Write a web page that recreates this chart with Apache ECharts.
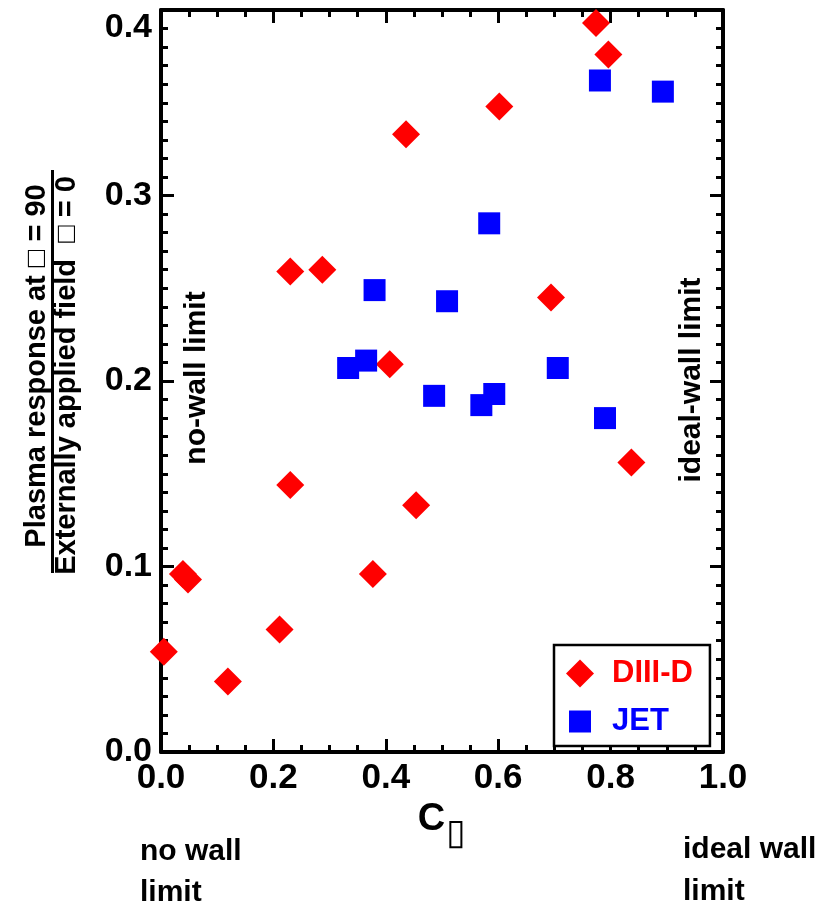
<!DOCTYPE html>
<html>
<head>
<meta charset="utf-8">
<script src="https://cdn.jsdelivr.net/npm/echarts@6/dist/echarts.min.js"></script>
<style>
html, body { margin: 0; padding: 0; background: #fff; }
#main { width: 825px; height: 916px; }
</style>
</head>
<body>
<div id="main"></div>
<script>
// data
var diiidX = [0.005, 0.039, 0.048, 0.119, 0.211, 0.230, 0.230, 0.287, 0.377, 0.407, 0.436, 0.454, 0.602, 0.694, 0.774, 0.796, 0.837];
var diiidY = [0.054, 0.096, 0.093, 0.038, 0.066, 0.144, 0.259, 0.260, 0.096, 0.209, 0.333, 0.133, 0.348, 0.245, 0.393, 0.376, 0.156];

var jetX = [0.333, 0.365, 0.380, 0.486, 0.509, 0.570, 0.584, 0.593, 0.706, 0.781, 0.790, 0.893];
var jetY = [0.207, 0.211, 0.249, 0.192, 0.243, 0.187, 0.285, 0.193, 0.207, 0.362, 0.180, 0.356];

var xMin = 0, xMax = 1.0, xStep = 0.2;
var yMin = 0, yMax = 0.4, yStep = 0.1;

var seriesNames = ['DIII-D', 'JET'];

var FONT = 'Liberation Sans';
var myChart = echarts.init(document.getElementById('main'));

function pairs(xs, ys) {
    return xs.map(function (x, i) { return [x, ys[i]]; });
}

var tickStyle = { width: 3, color: '#000' };
var lineStyle = { width: 4, color: '#000' };

function xAx(pos, showLabel) {
    return {
        type: 'value', position: pos, min: xMin, max: xMax, interval: xStep,
        axisLine: { show: true, onZero: false, lineStyle: lineStyle },
        axisTick: { show: true, inside: true, length: 13, lineStyle: tickStyle },
        minorTick: { show: true, splitNumber: 4, length: 7, lineStyle: tickStyle },
        splitLine: { show: false },
        axisLabel: {
            show: showLabel, margin: 9, showMinLabel: true, showMaxLabel: true,
            fontFamily: FONT, fontWeight: 'bold', fontSize: 35, color: '#000',
            formatter: function (v) { return v.toFixed(1); }
        }
    };
}

function yAx(pos, showLabel) {
    return {
        type: 'value', position: pos, min: yMin, max: yMax, interval: yStep,
        axisLine: { show: true, onZero: false, lineStyle: lineStyle },
        axisTick: { show: true, inside: true, length: 13, lineStyle: tickStyle },
        minorTick: { show: true, splitNumber: 10, length: 7, lineStyle: tickStyle },
        splitLine: { show: false },
        axisLabel: {
            show: showLabel, margin: 9, showMinLabel: true, showMaxLabel: true,
            fontFamily: FONT, fontWeight: 'bold', fontSize: 34, color: '#000',
            formatter: function (v) {
                // top label sits a little lower, as in the figure
                if (Math.abs(v - yMax) < 1e-9) return '{top|' + v.toFixed(1) + '}';
                return v.toFixed(1);
            },
            rich: {
                top: { padding: [36, 0, 0, 0], fontFamily: FONT, fontWeight: 'bold', fontSize: 34, color: '#000' }
            }
        }
    };
}

var xMain = xAx('bottom', true);
xMain.name = '{c|C}{s|\u25AF}';
xMain.nameLocation = 'middle';
xMain.nameGap = 47;
xMain.nameTextStyle = {
    rich: {
        c: { fontFamily: FONT, fontWeight: 'bold', fontSize: 38, color: '#000', verticalAlign: 'bottom' },
        s: { fontFamily: 'DejaVu Sans', fontSize: 36, color: '#000', verticalAlign: 'bottom', padding: [0, 0, -14, 1] }
    }
};

function txt(text, x, y, rot, size) {
    return {
        type: 'text', x: x, y: y, rotation: rot || 0, z: 10,
        style: {
            text: text, fill: '#000', font: 'bold ' + (size || 30) + 'px "' + FONT + '"',
            align: 'left', textAlign: 'left', verticalAlign: 'middle', textVerticalAlign: 'middle'
        }
    };
}
function ctxt(text, x, y, rot, size) {
    var t = txt(text, x, y, rot, size);
    t.style.align = 'center';
    t.style.textAlign = 'center';
    return t;
}

option = {
    backgroundColor: '#fff',
    animation: false,
    grid: { left: 161, right: 102, top: 10, bottom: 164 },
    xAxis: [xMain, xAx('top', false)],
    yAxis: [yAx('left', true), yAx('right', false)],
    legend: {
        orient: 'vertical',
        left: 554, top: 645,
        padding: [13, 17, 9, 12],
        itemGap: 17,
        itemWidth: 28, itemHeight: 28,
        borderColor: '#000', borderWidth: 2.5,
        backgroundColor: '#fff',
        selectedMode: false,
        data: [
            { name: seriesNames[0], icon: 'diamond', textStyle: { color: '#ff0000' } },
            { name: seriesNames[1], icon: 'path://M0,0M28,28M3,3h22v22h-22z', textStyle: { color: '#0000ff' } }
        ],
        textStyle: { fontFamily: FONT, fontWeight: 'bold', fontSize: 31, lineHeight: 28, padding: [0, 0, 0, 13] }
    },
    graphic: [
        {
            // y title written as a fraction
            type: 'group', x: 52.5, y: 372, rotation: Math.PI / 2,
            children: [
                ctxt('Plasma response at \u25A1 = 90', 6, -15.5, 0, 29),
                {
                    type: 'line', shape: { x1: -201, y1: 0, x2: 202, y2: 0 },
                    style: { stroke: '#000', lineWidth: 3 }
                },
                ctxt('Externally applied field  \u25A1 = 0', -3.5, 14, 0, 29)
            ]
        },
        ctxt('no-wall limit', 197, 378, Math.PI / 2, 30),
        ctxt('ideal-wall limit', 692, 380, Math.PI / 2, 30),
        txt('no wall', 140, 852, 0, 30),
        txt('limit', 140, 893, 0, 30),
        txt('ideal wall', 683, 850, 0, 30),
        txt('limit', 683, 892, 0, 30)
    ],
    series: [
        {
            name: seriesNames[0],
            type: 'scatter',
            symbol: 'diamond',
            symbolSize: 28,
            itemStyle: { color: '#ff0000', opacity: 1 },
            data: pairs(diiidX, diiidY)
        },
        {
            name: seriesNames[1],
            type: 'scatter',
            symbol: 'rect',
            symbolSize: 22,
            itemStyle: { color: '#0000ff', opacity: 1 },
            data: pairs(jetX, jetY)
        }
    ]
};

myChart.setOption(option);
</script>
</body>
</html>
